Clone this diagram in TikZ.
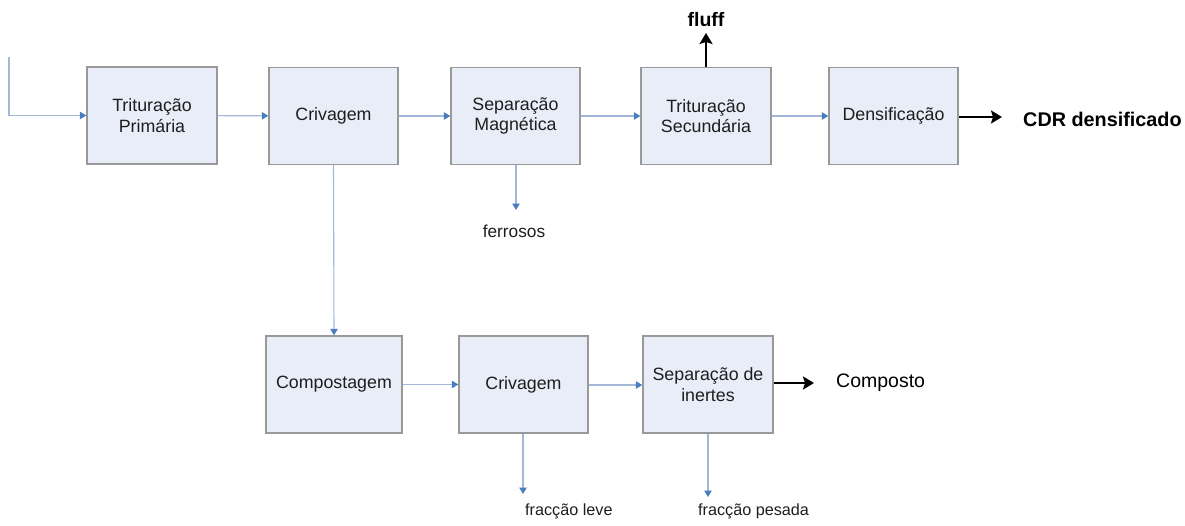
\documentclass[tikz,border=0pt]{standalone}
\usepackage{fontspec}
\setmainfont{Liberation Sans}
\usetikzlibrary{arrows.meta}
\definecolor{boxfill}{HTML}{E8EDF8}
\definecolor{boxline}{HTML}{999999}
\definecolor{flowline}{HTML}{A3B7D8}
\definecolor{flowtip}{HTML}{4A7DBD}
\definecolor{txt}{HTML}{1E1E1E}
\tikzset{
  stage/.style={draw=boxline, line width=1.4pt, fill=boxfill, text=txt,
    minimum width=130pt, minimum height=97pt, inner sep=0pt, align=center,
    font=\fontsize{17.8}{20.5}\selectfont},
  flow/.style={draw=flowline, line width=1.1pt,
    -{Triangle[length=6.5pt,width=7.5pt,color=flowtip]}},
  product/.style={draw=black, line width=2.6pt,
    -{Stealth[length=11pt,width=13pt,inset=2pt]}},
  lbl/.style={text=txt, inner sep=0pt, font=\fontsize{17.3}{20}\selectfont},
  biglbl/.style={text=black, inner sep=0pt, font=\fontsize{19.5}{22}\selectfont},
}
\begin{document}
\begin{tikzpicture}[x=1pt, y=-1pt]
\useasboundingbox (0,0) rectangle (1185,525);

% main line
\node[stage] (tp) at (152,115.5) {Trituração\\Primária};
\node[stage, minimum width=129pt] (cr) at (333.5,116) {Crivagem};
\node[stage, minimum width=129pt] (sm) at (515.5,116) {Separação\\Magnética};
\node[stage] (ts) at (706,116) {Trituração\\Secundária};
\node[stage, minimum width=129pt] (de) at (893.5,116) {Densificação};

% compost line
\node[stage, minimum width=136pt] (co) at (334,384.5) {Compostagem};
\node[stage, minimum width=129pt] (cr2) at (523.5,384.5) {Crivagem};
\node[stage] (si) at (708,384.5) {Separação de\\inertes};

% feed
\coordinate (feedtop) at (9,57);
\draw[flow] (feedtop) |- (tp.west);

\draw[flow] (tp) -- (cr);
\draw[flow] (cr) -- (sm);
\draw[flow] (sm) -- (ts);
\draw[flow] (ts) -- (de);

\draw[flow] (cr.south) -- (co.north);
\draw[flow] (co) -- (cr2);
\draw[flow] ([yshift=-0.5pt]cr2.east) -- ([yshift=-0.5pt]si.west);

% outputs
\coordinate (fe) at (516,210);
\draw[flow] (sm.south -| fe) -- (fe);
\node[lbl] (fer) at (514,231) {ferrosos};

\coordinate (fluffend) at (706,33);
\draw[product] (ts.north) -- (fluffend);
\node[biglbl, font=\fontsize{19.5}{22}\selectfont\bfseries] (fluff) at (706,20) {fluff};

\coordinate (cdrend) at (1002,117);
\draw[product] (de.east |- cdrend) -- (cdrend);
\node[biglbl, anchor=west, font=\fontsize{19.8}{22}\selectfont\bfseries] (cdr) at (1023,119) {CDR densificado};

\coordinate (compend) at (814,383);
\draw[product] (si.east |- compend) -- (compend);
\node[biglbl, anchor=west] (comp) at (836,383) {Composto};

\coordinate (leveend) at (523,494);
\draw[flow] (cr2.south -| leveend) -- (leveend);
\node[lbl, anchor=west, font=\fontsize{16.2}{19}\selectfont] (leve) at (525,511) {fracção leve};

\coordinate (pesend) at (708,497);
\draw[flow] (si.south -| pesend) -- (pesend);
\node[lbl, anchor=west, font=\fontsize{16.2}{19}\selectfont] (pes) at (698,511) {fracção pesada};
\end{tikzpicture}
\end{document}
